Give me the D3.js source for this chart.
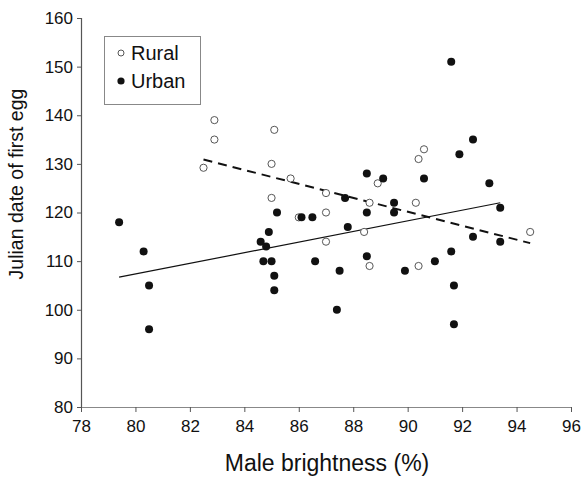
<html>
<head>
<meta charset="UTF-8">
<script src="https://d3js.org/d3.v7.min.js"></script>
<style>
  body { margin: 0; background: #fff; }
  text { font-family: "Liberation Sans", Arial, sans-serif; fill: #111; }
</style>
</head>
<body>
<svg id="chart" width="585" height="478"></svg>
<script>
// rural sites: male brightness (%) and julian date of first egg
const ruralX = [82.5, 82.9, 82.9, 85.1, 85.0, 85.7, 85.0, 87.0, 87.0, 86.0, 87.0, 88.9, 88.6, 90.3, 88.4, 88.6, 90.4, 90.6, 90.4, 94.5];
const ruralY = [129.2, 139, 135, 137, 130, 127, 123, 124, 120, 119, 114, 126, 122, 122, 116, 109, 109, 133, 131, 116];

// urban sites
const urbanX = [79.4, 80.3, 80.5, 80.5, 85.2, 86.1, 86.5, 87.7, 84.9, 87.8, 84.6, 84.8, 84.7, 85.0, 86.6, 85.1, 87.5, 85.1, 87.4,
                91.6, 91.9, 88.5, 89.1, 90.6, 89.5, 88.5, 89.5, 88.5, 89.9, 91.0, 91.6, 91.7, 91.7, 92.4, 93.0, 93.4, 92.4, 93.4];
const urbanY = [118, 112, 105, 96, 120, 119, 119, 123, 116, 117, 114, 113, 110, 110, 110, 107, 108, 104, 100,
                151, 132, 128, 127, 127, 122, 120, 120, 111, 108, 110, 112, 105, 97, 135, 126, 121, 115, 114];

// fitted lines, end points
const urbanFitX = [79.4, 93.4];
const urbanFitY = [106.7, 122.0];
const ruralFitX = [82.5, 94.5];
const ruralFitY = [130.9, 113.7];

const xTicks = [78, 80, 82, 84, 86, 88, 90, 92, 94, 96];
const yTicks = [80, 90, 100, 110, 120, 130, 140, 150, 160];
const seriesNames = ["Rural", "Urban"];

const svg = d3.select("#chart");

const x = d3.scaleLinear().domain([78, 96]).range([81, 571]);
const y = d3.scaleLinear().domain([80, 160]).range([407, 18]);

// y axis
const yAxis = svg.append("g")
    .attr("transform", "translate(81,0)")
    .call(d3.axisLeft(y).tickValues(yTicks).tickSize(4).tickPadding(4));
yAxis.select(".domain").attr("stroke", "#555").attr("stroke-width", 1.2);
yAxis.selectAll(".tick line").attr("stroke", "#555");
yAxis.selectAll(".tick text").attr("font-size", 17).attr("fill", "#111")
    .attr("font-family", "Liberation Sans, Arial, sans-serif");

// x axis
const xAxis = svg.append("g")
    .attr("transform", "translate(0,407)")
    .call(d3.axisBottom(x).tickValues(xTicks).tickSize(5).tickPadding(8));
xAxis.select(".domain").attr("stroke", "#888").attr("stroke-width", 1);
xAxis.selectAll(".tick line").attr("stroke", "#555");
xAxis.selectAll(".tick text").attr("font-size", 17).attr("fill", "#111")
    .attr("font-family", "Liberation Sans, Arial, sans-serif");

// axis titles
svg.append("text")
    .attr("x", 327).attr("y", 471)
    .attr("text-anchor", "middle")
    .attr("font-size", 23)
    .text("Male brightness (%)");

svg.append("text")
    .attr("transform", "translate(23,184) rotate(-90)")
    .attr("text-anchor", "middle")
    .attr("font-size", 19.5)
    .text("Julian date of first egg");

// fit lines
const line = d3.line().x(d => x(d[0])).y(d => y(d[1]));
svg.append("path")
    .attr("d", line(d3.zip(urbanFitX, urbanFitY)))
    .attr("fill", "none").attr("stroke", "#111").attr("stroke-width", 1.2);
svg.append("path")
    .attr("d", line(d3.zip(ruralFitX, ruralFitY)))
    .attr("fill", "none").attr("stroke", "#111").attr("stroke-width", 2)
    .attr("stroke-dasharray", "9,6");

// points
svg.append("g").selectAll("circle")
    .data(d3.zip(ruralX, ruralY))
    .join("circle")
    .attr("cx", d => x(d[0])).attr("cy", d => y(d[1]))
    .attr("r", 3.6)
    .attr("fill", "#fff").attr("stroke", "#444").attr("stroke-width", 0.9);

svg.append("g").selectAll("circle")
    .data(d3.zip(urbanX, urbanY))
    .join("circle")
    .attr("cx", d => x(d[0])).attr("cy", d => y(d[1]))
    .attr("r", 4)
    .attr("fill", "#111");

// legend
const legend = svg.append("g");
legend.append("rect")
    .attr("x", 104.5).attr("y", 36.5).attr("width", 96).attr("height", 68)
    .attr("fill", "#fff").attr("stroke", "#888");
seriesNames.forEach((name, i) => {
    const cy = 53 + i * 28;
    legend.append("circle")
        .attr("cx", 121).attr("cy", cy)
        .attr("r", i === 0 ? 3 : 3.6)
        .attr("fill", i === 0 ? "#fff" : "#111")
        .attr("stroke", i === 0 ? "#444" : "none")
        .attr("stroke-width", 0.9);
    legend.append("text")
        .attr("x", 131).attr("y", cy + 7)
        .attr("font-size", 20)
        .text(name);
});
</script>
</body>
</html>
